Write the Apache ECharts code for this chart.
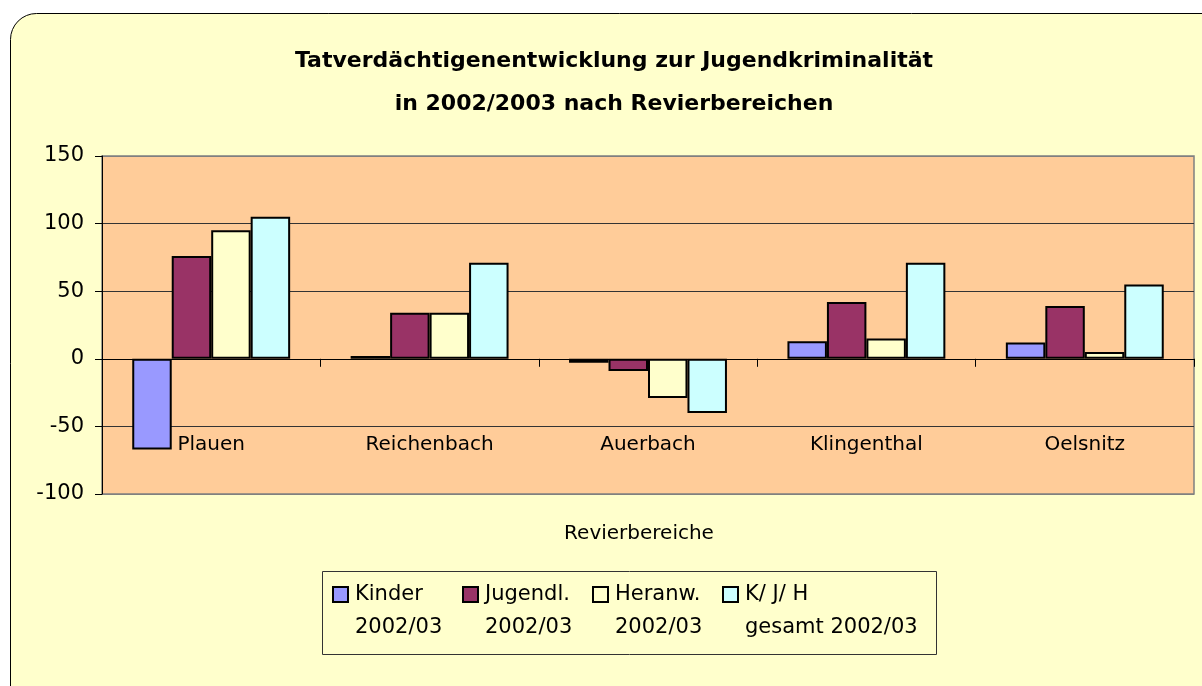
<!DOCTYPE html>
<html>
<head>
<meta charset="utf-8">
<script src="https://cdn.jsdelivr.net/npm/echarts@6/dist/echarts.min.js"></script>
<style>
  html, body { margin: 0; padding: 0; background: #fff; }
  #chart { width: 1202px; height: 686px; }
</style>
</head>
<body>
<div id="chart"></div>
<script>
const categories = ["Plauen", "Reichenbach", "Auerbach", "Klingenthal", "Oelsnitz"];
const seriesNames = ["Kinder", "Jugendl.", "Heranw.", "K/ J/ H"];
const legendSub = ["2002/03", "2002/03", "2002/03", "gesamt 2002/03"];
const kinder = [-67, 2, -3, 13, 12];
const jugendl = [76, 34, -9, 42, 39];
const heranw = [95, 34, -29, 15, 5];
const gesamt = [105, 71, -40, 71, 55];
const colors = ["#9999FF", "#993366", "#FFFFCC", "#CCFFFF"];
const yTicks = { min: -100, max: 150, interval: 50 };

const FONT = "DejaVu Sans";
const values = [kinder, jugendl, heranw, gesamt];

const chart = echarts.init(document.getElementById("chart"), null, { renderer: "canvas" });

const option = {
  animation: false,
  backgroundColor: "#ffffff",
  textStyle: { fontFamily: FONT, color: "#000" },
  graphic: [
    {
      type: "rect", z: -10, silent: true,
      shape: { x: 10.5, y: 13.5, width: 1230, height: 700, r: 26 },
      style: { fill: "#FFFFCC", stroke: "#000", lineWidth: 1 }
    },
    {
      type: "rect", z: -5, silent: true,
      shape: { x: 322.5, y: 571.5, width: 614, height: 83 },
      style: { fill: "#FFFFCC", stroke: "#333", lineWidth: 1 }
    }
  ],
  title: {
    text: "Tatverdächtigenentwicklung zur Jugendkriminalität\nin 2002/2003 nach Revierbereichen",
    left: 614, top: 40, textAlign: "center", padding: 0,
    textStyle: { fontFamily: FONT, fontSize: 22, fontWeight: "bold", lineHeight: 43, color: "#000" }
  },
  legend: {
    left: 332, top: 545, padding: 0, itemGap: 0,
    itemWidth: 15, itemHeight: 15, icon: "rect",
    data: seriesNames,
    // leading empty line keeps the first text line level with the icon
    formatter: name => "\n" + name + "\n" + legendSub[seriesNames.indexOf(name)],
    textStyle: {
      fontFamily: FONT, fontSize: 21, color: "#000",
      lineHeight: 33, padding: [0, 0, 0, 2], width: 107
    }
  },
  grid: {
    left: 102, right: 8, top: 156, bottom: 192,
    show: true, backgroundColor: "#FFCC99",
    borderColor: "#808080", borderWidth: 1.5
  },
  xAxis: {
    type: "category",
    data: categories,
    axisLine: { onZero: true, lineStyle: { color: "#000", width: 1 } },
    axisTick: { show: true, length: 8, lineStyle: { color: "#000" } },
    axisLabel: { margin: -59, fontFamily: FONT, fontSize: 20, color: "#000" },
    name: "Revierbereiche",
    nameLocation: "middle",
    nameGap: 30,
    nameTextStyle: { fontFamily: FONT, fontSize: 20, color: "#000", padding: [0, 18, 0, 0] },
    splitLine: { show: false }
  },
  yAxis: {
    type: "value",
    min: yTicks.min, max: yTicks.max, interval: yTicks.interval,
    axisLine: { show: true, lineStyle: { color: "#000", width: 1 } },
    axisTick: { show: true, length: 7, lineStyle: { color: "#000" } },
    axisLabel: { margin: 18, fontFamily: FONT, fontSize: 21, color: "#000" },
    splitLine: {
      show: true,
      lineStyle: { color: ["#808080", "#333", "#333", "#333", "#333", "#808080"], width: 1 }
    }
  },
  series: seriesNames.map((name, i) => ({
    name: name,
    type: "bar",
    data: values[i],
    barGap: "0%",
    barCategoryGap: "27.7%",
    itemStyle: { color: colors[i], borderColor: "#000", borderWidth: 2 }
  }))
};

chart.setOption(option);
</script>
</body>
</html>
